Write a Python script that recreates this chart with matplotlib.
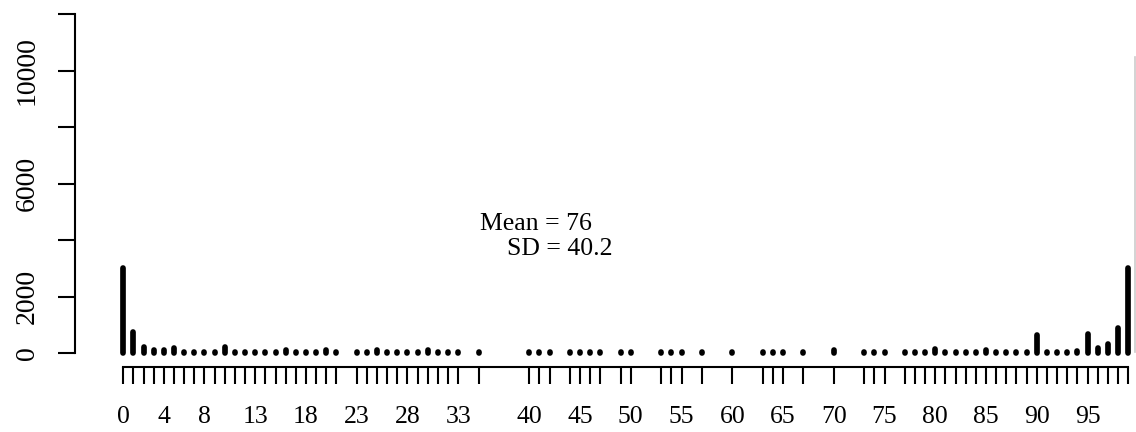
import matplotlib
matplotlib.use('Agg')
import matplotlib.pyplot as plt
from matplotlib.lines import Line2D

plt.rcParams['font.family'] = 'Liberation Serif'

# Frequency table: observed scores and how often each one occurs
scores = [0, 1, 2, 3, 4, 5, 6, 7, 8, 9, 10, 11, 12, 13, 14, 15, 16, 17, 18, 19, 20, 21,
          23, 24, 25, 26, 27, 28, 29, 30, 31, 32, 33, 35,
          40, 41, 42, 44, 45, 46, 47, 49, 50, 53, 54, 55, 57, 60, 63, 64, 65, 67, 70,
          73, 74, 75, 77, 78, 79, 80, 81, 82, 83, 84, 85, 86, 87, 88, 89,
          90, 91, 92, 93, 94, 95, 96, 97, 98, 99]
counts = [3000, 760, 230, 100, 100, 195, 45, 45, 45, 45, 220, 45, 45, 45, 45, 45, 100, 45, 45, 45, 100, 60,
          40, 40, 100, 45, 45, 45, 45, 100, 45, 45, 45, 45,
          40, 40, 40, 40, 40, 40, 40, 40, 40, 40, 40, 40, 40, 40, 40, 40, 40, 40, 100,
          40, 40, 60, 45, 45, 45, 135, 45, 45, 45, 45, 120, 45, 45, 45, 45,
          645, 45, 45, 45, 70, 680, 170, 345, 877, 3025]

x_labels = [0, 4, 8, 13, 18, 23, 28, 33, 40, 45, 50, 55, 60, 65, 70, 75, 80, 85, 90, 95]
y_ticks = [0, 2000, 4000, 6000, 8000, 10000, 12000]
y_labels = [0, 2000, 6000, 10000]

fig = plt.figure(figsize=(11.36, 4.32), dpi=100)
ax = fig.add_axes([0.066, 0.1512, 0.9337, 0.8164])

# type = "h" style: thick vertical segments with rounded ends
lc = ax.vlines(scores, 0, counts, colors='black', linewidth=4.1)
lc.set_capstyle('round')

ax.set_xlim(-4.76, 99.74)
ax.set_ylim(-474, 12000)

for s in ['top', 'right']:
    ax.spines[s].set_visible(False)
ax.spines['bottom'].set_bounds(0, 99)
ax.spines['left'].set_bounds(0, 12000)
for s in ['bottom', 'left']:
    ax.spines[s].set_linewidth(1.5)

ax.set_xticks(scores)
ax.set_xticklabels([str(v) if v in x_labels else '' for v in scores])
ax.set_yticks(y_ticks)
ax.set_yticklabels([str(v) if v in y_labels else '' for v in y_ticks],
                   rotation=90, va='center')
ax.tick_params(axis='both', direction='out', length=12.2, width=1.5)
ax.tick_params(axis='x', labelsize=18.5, pad=16)
ax.tick_params(axis='y', labelsize=20, pad=13)

fig.text(480 / 1136, 1 - 224 / 432, 'Mean = 76', fontsize=18.5, ha='left', va='center')
fig.text(507 / 1136, 1 - 249 / 432, 'SD = 40.2', fontsize=18.5, ha='left', va='center')

# thin frame edge on the right
fig.add_artist(Line2D([1134.5 / 1136, 1134.5 / 1136], [1 - 57 / 432, 1 - 352 / 432],
                      color='#cccccc', linewidth=1.2))

plt.savefig('out.png', dpi=100, facecolor='white')
plt.close()
